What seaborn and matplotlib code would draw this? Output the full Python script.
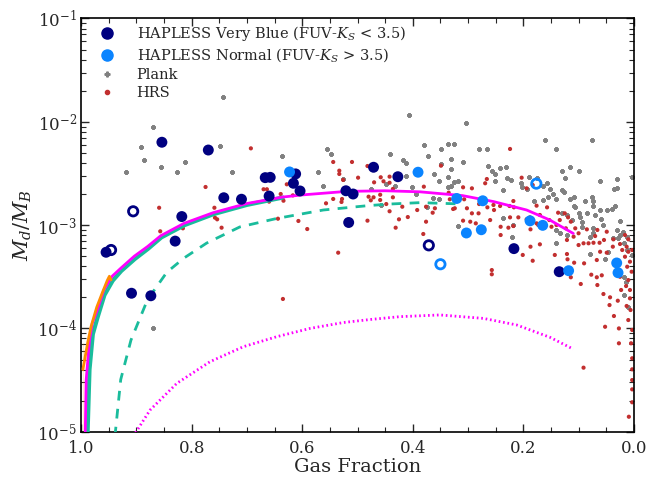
import matplotlib
matplotlib.use("Agg")
import matplotlib.pyplot as plt
from matplotlib.lines import Line2D
import numpy as np
import pandas as pd
import seaborn as sns

# ---- HAPLESS (gas fraction, Md/MB) ----
blue_frac = [0.854, 0.770, 0.667, 0.658, 0.612, 0.616, 0.604, 0.742, 0.710, 0.660, 0.818,
             0.830, 0.955, 0.909, 0.874, 0.471, 0.427, 0.521, 0.508, 0.516, 0.217, 0.135]
blue_ratio = [6.34e-3, 5.33e-3, 2.88e-3, 2.90e-3, 3.13e-3, 2.54e-3, 2.14e-3, 1.84e-3, 1.78e-3, 1.91e-3, 1.21e-3,
              7.0e-4, 5.46e-4, 2.19e-4, 2.07e-4, 3.63e-3, 2.94e-3, 2.15e-3, 2.00e-3, 1.06e-3, 5.92e-4, 3.54e-4]
blue_open_frac = [0.906, 0.946, 0.371]
blue_open_ratio = [1.36e-3, 5.74e-4, 6.37e-4]

normal_frac = [0.623, 0.3905, 0.3205, 0.2734, 0.1878, 0.1649, 0.303, 0.276, 0.031, 0.0286, 0.118]
normal_ratio = [3.27e-3, 3.25e-3, 1.81e-3, 1.72e-3, 1.10e-3, 9.95e-4, 8.39e-4, 9.02e-4, 4.30e-4, 3.46e-4, 3.62e-4]
normal_open_frac = [0.1764, 0.350]
normal_open_ratio = [2.52e-3, 4.18e-4]

# ---- Planck sample (gas fraction, log10 Md/MB) ----
plank_frac = [0.744, 0.871, 0.891, 0.886, 0.856, 0.919, 0.826, 0.812, 0.749, 0.728, 0.636, 0.870,
              0.407, 0.555, 0.548, 0.571, 0.527, 0.562, 0.441, 0.418, 0.412, 0.380, 0.372, 0.349,
              0.336, 0.325, 0.330, 0.349, 0.362, 0.353, 0.336, 0.331, 0.319, 0.325, 0.331, 0.337,
              0.402, 0.395, 0.448, 0.413, 0.433, 0.363, 0.352, 0.375, 0.319, 0.457, 0.476,
              0.304, 0.280, 0.266, 0.310, 0.161, 0.076, 0.141, 0.263, 0.257, 0.252, 0.243, 0.232,
              0.229, 0.223, 0.251, 0.236, 0.205, 0.203, 0.194, 0.190, 0.176, 0.165, 0.157, 0.152,
              0.147, 0.155, 0.164, 0.181, 0.140, 0.130, 0.115, 0.099, 0.125, 0.130, 0.126, 0.115,
              0.108, 0.106, 0.130, 0.088, 0.076, 0.073, 0.061, 0.031, 0.036, 0.049, 0.040, 0.034,
              0.062, 0.070, 0.059, 0.085, 0.100, 0.055, 0.031, 0.025, 0.004, 0.221, 0.218, 0.236,
              0.140, 0.134, 0.121, 0.112, 0.031, 0.025, 0.037, 0.140, 0.121, 0.074, 0.028, 0.018,
              0.019, 0.012, 0.053, 0.047, 0.079, 0.013, 0.017, 0.017, 0.010, 0.014, 0.004, 0.003,
              0.073, 0.097, 0.094, 0.093, 0.073, 0.079, 0.109]
plank_logratio = [-1.757, -2.047, -2.241, -2.370, -2.440, -2.489, -2.489, -2.392, -2.231, -2.486, -2.334, -4.000,
                  -1.934, -2.263, -2.312, -2.483, -2.557, -2.621, -2.312, -2.370, -2.402, -2.225, -2.331, -2.263,
                  -2.215, -2.218, -2.363, -2.409, -2.505, -2.570, -2.537, -2.457, -2.570, -2.580, -2.619, -2.628,
                  -2.634, -2.702, -2.599, -2.525, -2.619, -2.741, -2.747, -2.828, -3.009, -2.808, -2.653,
                  -2.009, -2.260, -2.260, -2.392, -2.176, -2.176, -2.263, -2.425, -2.473, -2.505, -2.444, -2.435,
                  -2.541, -2.563, -2.573, -2.660, -2.595, -2.634, -2.653, -2.537, -2.541, -2.619, -2.595, -2.653,
                  -2.699, -2.725, -2.757, -2.764, -2.750, -2.476, -2.440, -2.476, -2.541, -2.660, -2.682, -2.747,
                  -2.725, -2.822, -2.886, -2.767, -2.725, -2.815, -2.573, -2.554, -2.653, -2.854, -2.844, -2.815,
                  -2.854, -2.902, -2.944, -2.880, -2.886, -2.999, -3.047, -3.096, -2.537, -3.112, -2.999, -2.934,
                  -3.047, -3.079, -2.902, -2.951, -2.644, -2.957, -3.128, -3.176, -3.096, -3.074, -3.128, -3.176,
                  -3.064, -3.112, -3.331, -3.258, -3.280, -3.241, -3.500, -3.677, -3.790, -3.548, -3.289, -2.531,
                  -2.764, -2.919, -2.967, -3.016, -3.025, -3.112, -2.815]

# ---- HRS sample (gas fraction, log10 Md/MB) ----
hrs_frac = [0.693, 0.775, 0.859, 0.857, 0.816, 0.759, 0.758, 0.754, 0.746, 0.670, 0.664, 0.660,
            0.639, 0.628, 0.617, 0.634, 0.644, 0.607, 0.635, 0.535,
            0.544, 0.510, 0.533, 0.533, 0.499, 0.526, 0.544, 0.528, 0.529, 0.557, 0.591, 0.482,
            0.470, 0.480, 0.476, 0.471, 0.459, 0.459, 0.458, 0.442, 0.442, 0.453, 0.436, 0.436,
            0.448, 0.442, 0.425, 0.431, 0.419, 0.409, 0.392, 0.381, 0.376, 0.380, 0.376, 0.364,
            0.360, 0.349, 0.333, 0.335, 0.327, 0.324, 0.482,
            0.224, 0.266, 0.269, 0.293, 0.309, 0.307, 0.280, 0.302, 0.293, 0.281, 0.265, 0.254,
            0.253, 0.242, 0.225, 0.218, 0.203, 0.194, 0.183, 0.217, 0.224, 0.209, 0.194, 0.260,
            0.286, 0.309, 0.296, 0.241, 0.227, 0.241, 0.218, 0.188, 0.187, 0.176, 0.170, 0.157,
            0.153, 0.149, 0.170, 0.187, 0.137, 0.125, 0.119, 0.114, 0.134, 0.140, 0.123, 0.106,
            0.100, 0.085, 0.070, 0.066, 0.049, 0.037, 0.054, 0.062, 0.073, 0.082, 0.091, 0.100,
            0.109, 0.121, 0.038, 0.025, 0.013, 0.010, 0.016, 0.173, 0.162, 0.176,
            0.201, 0.183, 0.143, 0.121, 0.108, 0.114, 0.090, 0.096, 0.077, 0.067, 0.066, 0.058,
            0.055, 0.043, 0.044, 0.029, 0.036, 0.027, 0.052, 0.027, 0.091, 0.010, 0.013, 0.007,
            0.006, 0.003, 0.005, 0.003, 0.003, 0.003, 0.003, 0.003, 0.009, 0.023, 0.025, 0.014,
            0.010, 0.007, 0.012, 0.007, 0.004, 0.016, 0.010, 0.021, 0.049, 0.061, 0.003, 0.067,
            0.257, 0.257, 0.120]
hrs_logratio = [-2.257, -2.631, -2.832, -3.060, -3.031, -2.832, -2.928, -2.944, -3.025, -2.653, -2.653, -2.773,
                -2.699, -2.605, -2.712, -2.764, -2.938, -2.960, -3.715, -3.267,
                -2.389, -2.389, -2.473, -2.505, -2.541, -2.563, -2.747, -2.747, -2.776, -2.789, -3.038, -2.957,
                -2.586, -2.725, -2.760, -2.731, -2.706, -2.757, -2.537, -2.531, -2.590, -2.576, -2.650, -2.731,
                -2.796, -2.866, -2.944, -3.025, -2.822, -2.922, -2.854, -3.086, -2.967, -2.628, -2.822, -2.880,
                -2.837, -2.425, -2.750, -2.686, -2.844, -2.837, -2.428,
                -2.263, -2.554, -2.595, -2.644, -2.634, -2.750, -2.796, -2.837, -2.886, -2.886, -2.828, -2.805,
                -2.854, -2.815, -2.815, -2.767, -2.541, -2.644, -2.612, -2.828, -2.925, -2.925, -2.944, -2.951,
                -2.983, -2.957, -2.967, -3.016, -3.025, -3.096, -3.009, -2.925, -3.041, -2.812, -2.902, -2.828,
                -2.951, -3.016, -3.186, -3.209, -2.880, -2.886, -2.925, -2.967, -2.951, -2.999, -3.031, -3.031,
                -3.079, -3.041, -3.106, -3.047, -3.064, -3.138, -3.144, -3.171, -3.171, -3.176, -3.176, -3.193,
                -3.112, -3.144, -3.209, -3.183, -3.209, -3.138, -3.096, -2.999, -3.009, -2.983,
                -3.289, -3.345, -3.289, -3.280, -3.364, -3.505, -3.370, -3.570, -3.480, -3.505, -3.580, -3.486,
                -3.667, -3.699, -3.774, -3.732, -3.880, -4.000, -3.984, -4.144, -4.380, -3.919, -3.783, -3.709,
                -3.822, -4.015, -4.144, -4.289, -4.396, -4.500, -4.590, -4.715, -4.855, -3.628, -3.500, -3.590,
                -3.532, -3.628, -3.403, -3.354, -3.451, -3.306, -3.258, -3.241, -3.267, -3.258, -3.241, -3.338,
                -3.435, -3.476, -3.331]

# ---- model tracks (gas fraction, Md/MB) ----
magenta_frac = [0.993, 0.991, 0.985, 0.980, 0.971, 0.959, 0.944, 0.9285, 0.904, 0.880, 0.856, 0.814,
                0.761, 0.700, 0.635, 0.600, 0.520, 0.450, 0.387, 0.310, 0.254, 0.194, 0.152, 0.1095]
magenta_ratio = [8e-6, 3.2e-5, 7.7e-5, 1.12e-4, 1.5e-4, 2.36e-4, 3.2e-4, 3.82e-4, 5.0e-4, 6.2e-4, 7.9e-4, 1.04e-3,
                 1.32e-3, 1.62e-3, 1.87e-3, 1.96e-3, 2.12e-3, 2.15e-3, 2.10e-3, 1.93e-3, 1.69e-3, 1.40e-3,
                 1.12e-3, 8.3e-4]

teal_frac = [0.989, 0.985, 0.979, 0.970, 0.958, 0.943, 0.9275, 0.903, 0.879, 0.855, 0.813, 0.760, 0.700, 0.635]
teal_ratio = [8e-6, 4.0e-5, 8.8e-5, 1.3e-4, 2.1e-4, 2.9e-4, 3.6e-4, 4.7e-4, 5.9e-4, 7.6e-4, 1.0e-3, 1.28e-3,
              1.57e-3, 1.85e-3]

orange_frac = [0.997, 0.997, 0.988, 0.982, 0.972, 0.962, 0.953, 0.949, 0.946]
orange_ratio = [8e-6, 7.2e-5, 7.4e-5, 1.05e-4, 1.6e-4, 2.2e-4, 2.9e-4, 3.2e-4, 2.95e-4]

dashed_frac = [0.939, 0.9285, 0.910, 0.880, 0.845, 0.814, 0.773, 0.713, 0.646, 0.562, 0.483, 0.441, 0.387, 0.309]
dashed_ratio = [9e-6, 3.2e-5, 7.7e-5, 1.9e-4, 3.5e-4, 4.8e-4, 6.7e-4, 9.6e-4, 1.16e-3, 1.40e-3, 1.54e-3,
                1.60e-3, 1.65e-3, 1.60e-3]

dotted_frac = [0.906, 0.8755, 0.827, 0.767, 0.7067, 0.646, 0.586, 0.5257, 0.477, 0.423, 0.351,
               0.272, 0.212, 0.1517, 0.1095]
dotted_ratio = [9e-6, 1.62e-5, 2.94e-5, 4.76e-5, 6.65e-5, 8.32e-5, 1.00e-4, 1.14e-4, 1.22e-4, 1.30e-4, 1.35e-4,
                1.25e-4, 1.08e-4, 8.2e-5, 6.3e-5]

col_blue = "#000080"
col_normal = "#0a84ff"
col_plank = "#808080"
col_hrs = "#c22f2f"
col_teal = "#1abc9c"
col_magenta = "#ff00ff"
col_orange = "#ff8c00"

sns.set_style("ticks")
plt.rcParams["font.family"] = ["DejaVu Serif"]
plt.rcParams["mathtext.fontset"] = "dejavuserif"

fig = plt.figure(figsize=(6.63, 4.79), dpi=100)
ax = fig.add_axes([0.1225, 0.0987, 0.956 - 0.1225, 0.9614 - 0.0987])

plank = pd.DataFrame({"frac": plank_frac, "ratio": 10 ** np.array(plank_logratio)})
hrs = pd.DataFrame({"frac": hrs_frac, "ratio": 10 ** np.array(hrs_logratio)})

# survey samples first, models on top, HAPLESS last
sns.scatterplot(data=plank, x="frac", y="ratio", ax=ax, marker="P", s=12, color=col_plank,
                edgecolor=col_plank, linewidth=0.7, zorder=2)
sns.scatterplot(data=hrs, x="frac", y="ratio", ax=ax, marker="o", s=9, color=col_hrs,
                edgecolor="none", linewidth=0, zorder=2)

sns.lineplot(x=dotted_frac, y=dotted_ratio, ax=ax, sort=False, color=col_magenta, lw=2,
             linestyle=(0, (0.6, 1.0)), zorder=3)
sns.lineplot(x=dashed_frac, y=dashed_ratio, ax=ax, sort=False, color=col_teal, lw=2,
             linestyle=(0, (3.5, 3)), zorder=3)
sns.lineplot(x=teal_frac, y=teal_ratio, ax=ax, sort=False, color=col_teal, lw=3, zorder=3)
sns.lineplot(x=magenta_frac, y=magenta_ratio, ax=ax, sort=False, color=col_magenta, lw=2, zorder=3)
sns.lineplot(x=orange_frac, y=orange_ratio, ax=ax, sort=False, color=col_orange, lw=2, zorder=3)

sns.scatterplot(x=blue_frac, y=blue_ratio, ax=ax, s=62, color=col_blue, edgecolor="none", zorder=4)
sns.scatterplot(x=normal_frac, y=normal_ratio, ax=ax, s=62, color=col_normal, edgecolor="none", zorder=4)
ax.scatter(blue_open_frac, blue_open_ratio, s=45, facecolors="none", edgecolors=col_blue, linewidths=2, zorder=4)
ax.scatter(normal_open_frac, normal_open_ratio, s=45, facecolors="none", edgecolors=col_normal, linewidths=2, zorder=4)

ax.set_yscale("log")
ax.set_xlim(1.0, 0.0)
ax.set_ylim(1e-5, 1e-1)
ax.set_xticks([1.0, 0.8, 0.6, 0.4, 0.2, 0.0])
ax.set_xticklabels(["1.0", "0.8", "0.6", "0.4", "0.2", "0.0"])
ax.xaxis.set_minor_locator(matplotlib.ticker.MultipleLocator(0.05))
ax.tick_params(which="both", direction="in", top=True, right=True, labelsize=12)
ax.tick_params(axis="x", pad=6)
ax.tick_params(axis="y", pad=3)
ax.tick_params(which="major", length=6, width=1)
ax.tick_params(which="minor", length=3.5, width=0.8)
for sp in ax.spines.values():
    sp.set_linewidth(1.2)
    sp.set_color("black")

ax.set_xlabel("Gas Fraction", fontsize=14, labelpad=1)
ax.set_ylabel("$M_d/M_B$", fontsize=15, labelpad=2)

handles = [
    Line2D([], [], marker="o", ls="none", color=col_blue, markersize=8, label="HAPLESS Very Blue (FUV-$K_S$ < 3.5)"),
    Line2D([], [], marker="o", ls="none", color=col_normal, markersize=8, label="HAPLESS Normal (FUV-$K_S$ > 3.5)"),
    Line2D([], [], marker="P", ls="none", color=col_plank, markersize=3.5, label="Plank"),
    Line2D([], [], marker="o", ls="none", color=col_hrs, markersize=3, label="HRS"),
]
ax.legend(handles=handles, loc="upper left", bbox_to_anchor=(0.0, 1.015), frameon=False, fontsize=10.5,
          numpoints=1, handletextpad=1.0, labelspacing=0.25, borderaxespad=0.4)

fig.savefig("out.png", dpi=100)
